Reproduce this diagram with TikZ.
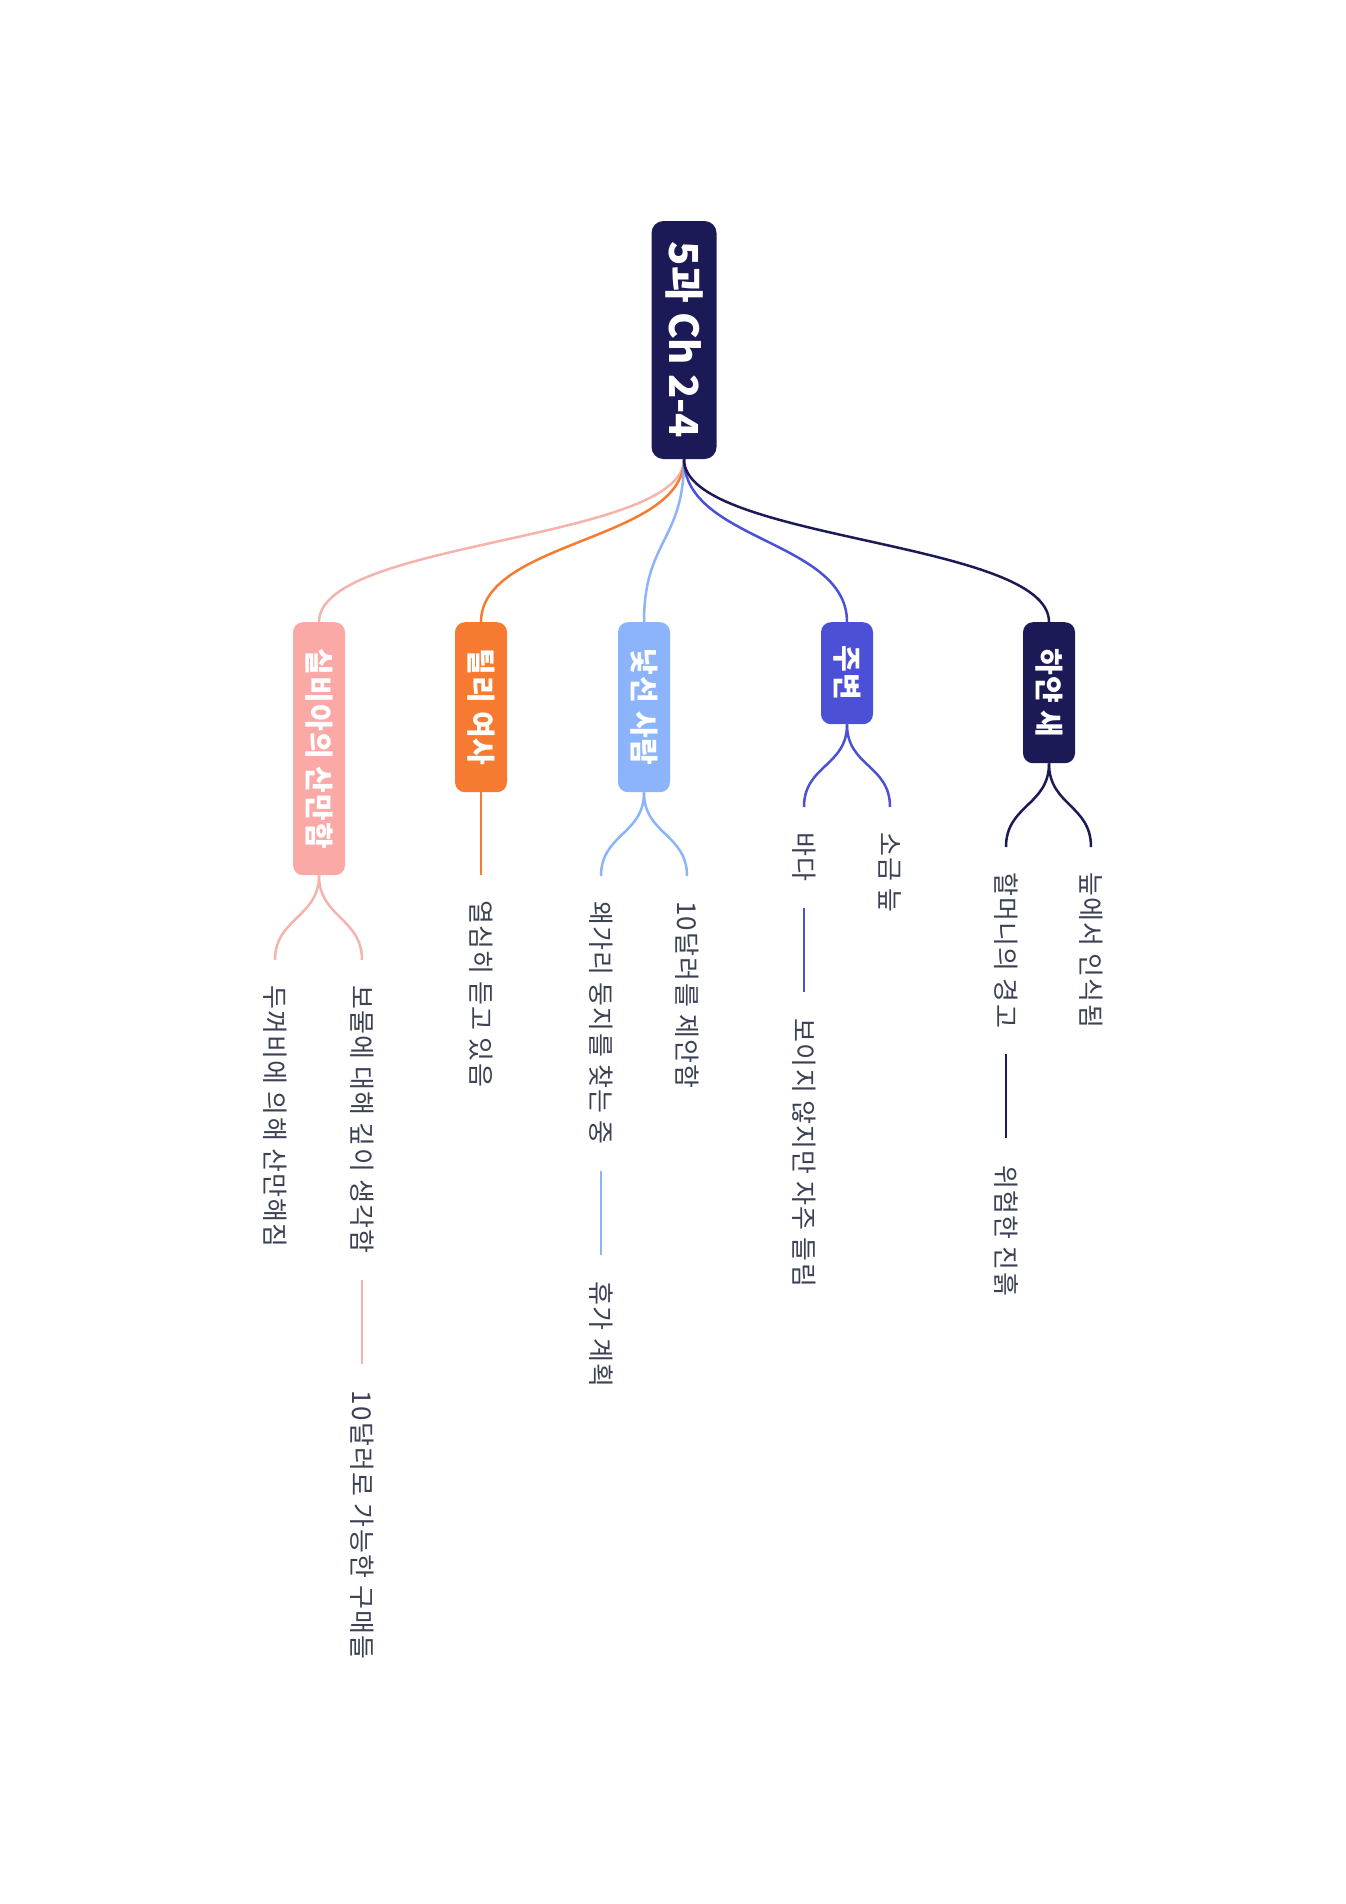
\documentclass[tikz,border=0pt]{standalone}
\usepackage{fontspec}
\setmainfont{Noto Sans CJK KR}
\usetikzlibrary{positioning}

\definecolor{navy}{HTML}{1B1A57}
\definecolor{royal}{HTML}{4B50D6}
\definecolor{sky}{HTML}{8CB4FA}
\definecolor{tangerine}{HTML}{F67B30}
\definecolor{salmon}{HTML}{FBA9A6}
\definecolor{salmonline}{HTML}{F5B3AC}
\definecolor{leafgray}{HTML}{3C4154}

\begin{document}
\begin{tikzpicture}[x=1pt, y=-1pt,
    topic/.style={rotate=-90, fill=navy, text=white, rounded corners=12pt,
      font=\bfseries\fontsize{40}{48}\selectfont, minimum height=65pt, inner sep=0pt},
    branch/.style={rotate=-90, anchor=west, fill=#1, text=white, rounded corners=10pt,
      font=\bfseries\fontsize{29}{34}\selectfont\addfontfeatures{LetterSpace=4},
      minimum height=52pt, inner sep=0pt},
    leaf/.style={rotate=-90, anchor=west, text=leafgray,
      font=\fontsize{26}{30}\selectfont\addfontfeatures{LetterSpace=5}, inner sep=0pt},
    link/.style={line width=2.5pt, draw=#1}]

      \useasboundingbox (0,0) rectangle (1346,1904);

      %% Central topic
      \node[topic, minimum width=238pt] (root) at (684,340) {5과 Ch 2-4};

      %% Main branches
      \node[branch=salmon, minimum width=253pt] (silvia) at (319,622) {실비아의 산만함};
      \node[branch=tangerine, minimum width=170pt] (tilly) at (481,622) {틸리 여사};
      \node[branch=sky, minimum width=170pt] (stranger) at (644,622) {낯선 사람};
      \node[branch=royal, minimum width=102pt] (around) at (847,622) {주변};
      \node[branch=navy, minimum width=141pt] (bird) at (1049,622) {하얀 새};

      \foreach \b/\c in {silvia/salmonline, tilly/tangerine, stranger/sky, around/royal, bird/navy}
      {%
        \draw[link=\c] (root.east) .. controls +(0,82) and +(0,-82) .. (\b.west);
      }

      %% Leaves
      \node[leaf] (toad) at (275,985) {두꺼비에 의해 산만해짐};
      \node[leaf] (treasure) at (362,985) {보물에 대해 깊이 생각함};
      \node[leaf] (buy) at ([yshift=-137pt]treasure.east) {10달러로 가능한 구매들};

      \node[leaf] (listen) at (481,900) {열심히 듣고 있음};

      \node[leaf] (nest) at (601,901) {왜가리 둥지를 찾는 중};
      \node[leaf] (offer) at (687,901) {10달러를 제안함};
      \node[leaf] (holiday) at ([yshift=-137pt]nest.east) {휴가 계획};

      \node[leaf] (sea) at (804,832) {바다};
      \node[leaf] (heard) at ([yshift=-137pt]sea.east) {보이지 않지만 자주 들림};
      \node[leaf] (marsh) at (890,832) {소금 늪};

      \node[leaf] (warning) at (1006,872) {할머니의 경고};
      \node[leaf] (mud) at ([yshift=-137pt]warning.east) {위험한 진흙};
      \node[leaf] (seen) at (1091,872) {늪에서 인식됨};

      %% Branch to leaf
      \foreach \b/\l/\c in {silvia/toad/salmonline, silvia/treasure/salmonline,
        stranger/nest/sky, stranger/offer/sky, around/sea/royal, around/marsh/royal,
        bird/warning/navy, bird/seen/navy}
      {%
        \draw[link=\c] (\b.east) .. controls +(0,42) and +(0,-42) .. ([yshift=25pt]\l.west);
      }
      \draw[link=tangerine] (tilly.east) -- ([yshift=25pt]listen.west);

      %% Leaf to leaf
      \draw[link=salmonline, shorten <=26pt, shorten >=27pt] (treasure.east) -- (buy.west);
      \draw[link=sky, shorten <=26pt, shorten >=27pt] (nest.east) -- (holiday.west);
      \draw[link=royal, shorten <=26pt, shorten >=27pt] (sea.east) -- (heard.west);
      \draw[link=navy, shorten <=26pt, shorten >=27pt] (warning.east) -- (mud.west);

\end{tikzpicture}
\end{document}
